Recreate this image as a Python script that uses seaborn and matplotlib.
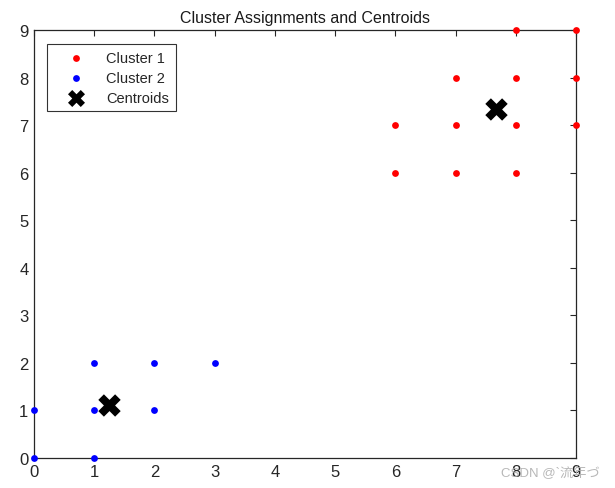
import matplotlib
matplotlib.use("Agg")
import matplotlib.pyplot as plt
import seaborn as sns
import pandas as pd
import numpy as np

c1_x = [6, 6, 7, 7, 7, 8, 8, 8, 8, 9, 9, 9]
c1_y = [7, 6, 8, 7, 6, 9, 8, 7, 6, 9, 8, 7]
c2_x = [0, 0, 1, 1, 1, 2, 2, 3]
c2_y = [0, 1, 0, 1, 2, 2, 1, 2]
cent_x = [7.6667, 1.25]
cent_y = [7.3333, 1.125]
ticks = list(range(10))

sns.set_style("white")
plt.rcParams['font.family'] = ['Liberation Sans', 'Noto Sans CJK SC', 'DejaVu Sans']

fig = plt.figure(figsize=(6.15, 4.89), dpi=100)
ax = fig.add_axes([34/615, 30/489, (576-34)/615, (459-31)/489])

df1 = pd.DataFrame({"x": c1_x, "y": c1_y})
df2 = pd.DataFrame({"x": c2_x, "y": c2_y})
dfc = pd.DataFrame({"x": cent_x, "y": cent_y})

sns.scatterplot(data=df1, x="x", y="y", ax=ax, color="#ff0000", s=24, linewidth=0,
                label="Cluster 1", clip_on=False, zorder=3)
sns.scatterplot(data=df2, x="x", y="y", ax=ax, color="#0000ff", s=24, linewidth=0,
                label="Cluster 2", clip_on=False, zorder=3)
sns.scatterplot(data=dfc, x="x", y="y", ax=ax, color="black", marker="X", s=260,
                linewidth=0, label="Centroids", clip_on=False, zorder=4)

ax.set_xlim(0, 9)
ax.set_ylim(0, 9)
ax.set_xticks(ticks)
ax.set_yticks(ticks)
ax.set_xlabel("")
ax.set_ylabel("")
ax.tick_params(direction="in", length=4, width=0.8, top=True, right=True,
               labelsize=12, colors="#262626", pad=4)
for sp in ax.spines.values():
    sp.set_color("#262626")
    sp.set_linewidth(0.9)
ax.set_title("Cluster Assignments and Centroids", fontsize=11.5, color="#1a1a1a", pad=6)

leg = ax.legend(loc="upper left", bbox_to_anchor=(0.024, 0.967), borderaxespad=0,
                frameon=True, fancybox=False, edgecolor="black", fontsize=10.5,
                handletextpad=0.5, borderpad=0.45, labelspacing=0.42,
                handlelength=3.1, markerscale=1.0)
leg.get_frame().set_linewidth(0.8)
handles = leg.legend_handles
handles[2].set_sizes([150])

fig.text(0.815, 0.025, "CSDN @`流年づ", fontsize=9.5, color="#b0b0b0", alpha=0.9,
         family=['Liberation Sans', 'Noto Sans CJK SC', 'DejaVu Sans'])

fig.savefig("out.png", dpi=100)
